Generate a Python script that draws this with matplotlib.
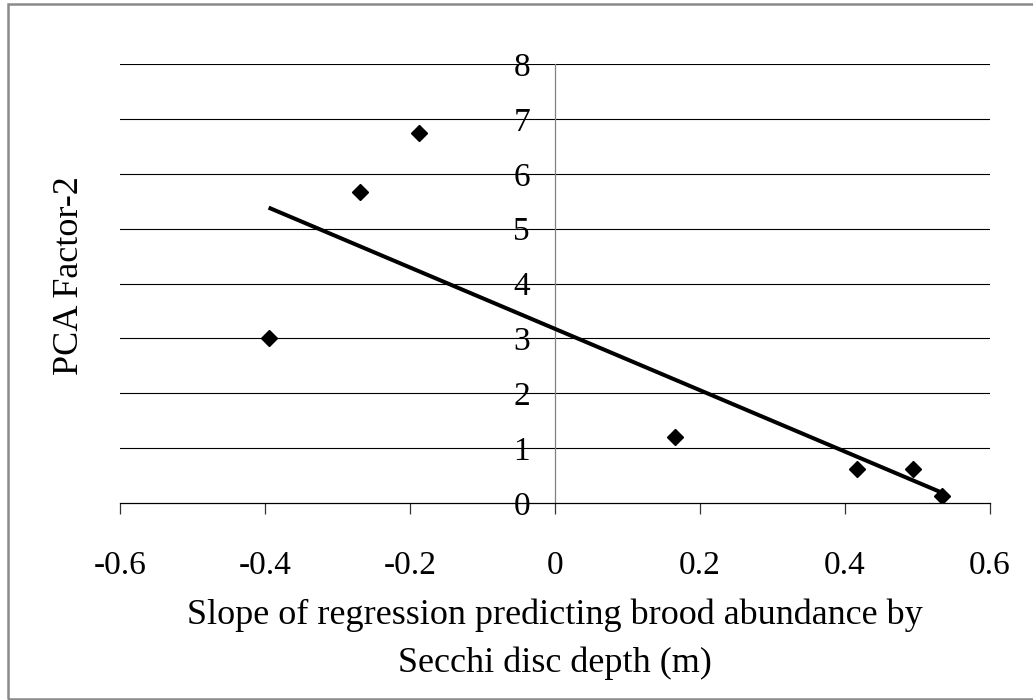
import numpy as np
import matplotlib.pyplot as plt
from matplotlib.patches import Rectangle

# data
slope = [-0.395, -0.269, -0.188, 0.165, 0.416, 0.494, 0.534]
factor2 = [3.00, 5.67, 6.75, 1.20, 0.62, 0.62, 0.12]
x_ticks = [-0.6, -0.4, -0.2, 0, 0.2, 0.4, 0.6]
x_tick_labels = ['-0.6', '-0.4', '-0.2', '0', '0.2', '0.4', '0.6']
y_ticks = [0, 1, 2, 3, 4, 5, 6, 7, 8]

plt.rcParams['font.family'] = ['Liberation Serif', 'DejaVu Serif']

fig = plt.figure(figsize=(10.33, 7), dpi=100)
ax = fig.add_axes([120/1033, 1 - 503/700, 870/1033, 439/700])

# linear trendline
k, b = np.polyfit(slope, factor2, 1)
xs = np.array([min(slope), max(slope)])
ax.plot(xs, k*xs + b, color='black', lw=2.9, solid_capstyle='butt', zorder=3)
ax.plot(slope, factor2, ls='none', marker='D', ms=8.5, color='black', zorder=4)

ax.set_xlim(-0.6, 0.6)
ax.set_ylim(0, 8)
ax.set_xticks(x_ticks)
ax.set_xticklabels(x_tick_labels)
ax.set_yticks(y_ticks)

# axes cross at the origin, Excel style
ax.spines['left'].set_position(('data', 0))
ax.spines['left'].set_color('#808080')
ax.spines['left'].set_linewidth(0.9)
ax.spines['bottom'].set_color('black')
ax.spines['bottom'].set_linewidth(0.9)
ax.spines['top'].set_visible(False)
ax.spines['right'].set_visible(False)

for yv in y_ticks[1:]:
    ax.axhline(yv, color='black', lw=0.8, zorder=1)

ax.tick_params(axis='x', direction='out', length=8, width=0.9, pad=26, labelsize=24, color='#333333')
ax.tick_params(axis='y', direction='out', length=0, pad=18, labelsize=24)

fig.text(70/1033, 1 - 276/700, 'PCA Factor-2', rotation=90, ha='center', va='center', fontsize=26)
fig.text(555/1033, 1 - 615/700, 'Slope of regression predicting brood abundance by',
         ha='center', va='center', fontsize=26)
fig.text(555/1033, 1 - 663/700, 'Secchi disc depth (m)', ha='center', va='center', fontsize=26)

# outer frame of the chart area
fig.patches.append(Rectangle((8/1033, 1/700), 1.02, 1 - 5/700, transform=fig.transFigure,
                             fill=False, edgecolor='#8a8a8a', lw=1.8, zorder=0))

fig.savefig('out.png', dpi=100)
